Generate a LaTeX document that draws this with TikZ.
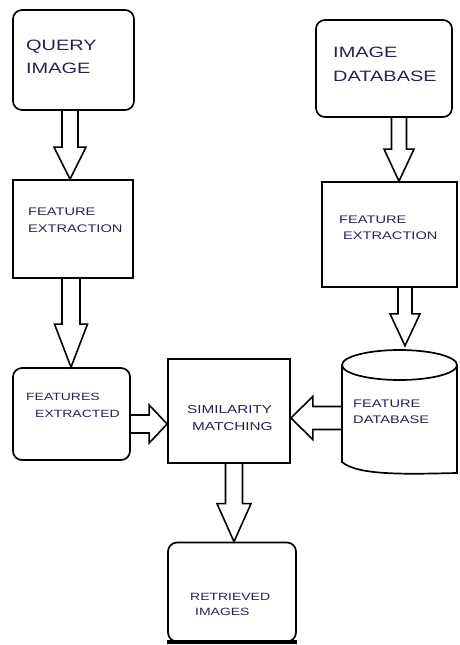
\documentclass[tikz,border=0pt]{standalone}
\usepackage{fontspec}
\setmainfont[FakeStretch=1.33]{Liberation Sans}
\usepackage{tikz}
\usetikzlibrary{calc}
\definecolor{inkblue}{RGB}{36,36,76}

% hollow block arrow: from, to, shaft half width, head half width, head length
\newcommand{\blockarrow}[5]{%
  \coordinate (hb) at ($(#2)!#5!(#1)$);
  \draw[arrowline] ($(#1)!#3!90:(#2)$) -- ($(hb)!#3!90:(#2)$) -- ($(hb)!#4!90:(#2)$)
    -- (#2) -- ($(hb)!#4!-90:(#2)$) -- ($(hb)!#3!-90:(#2)$) -- ($(#1)!#3!-90:(#2)$);
}

\tikzset{
  box/.style={draw, line width=1.7pt, inner sep=0pt},
  rbox/.style={box, rounded corners=9pt},
  lbl/.style={anchor=base west, inner sep=0pt, text=inkblue},
  big/.style={lbl, font=\fontsize{15}{18}\selectfont},
  small/.style={lbl, font=\fontsize{11}{13}\selectfont},
  arrowline/.style={line width=1.6pt, line join=miter}
}

\begin{document}
\begin{tikzpicture}[x=1pt, y=-1pt]
			\useasboundingbox (0,0) rectangle (459,645);
			% boxes
			\node[rbox, minimum width=121pt, minimum height=100pt] (qry) at (73.5,60) {};
			\node[box, minimum width=120pt, minimum height=98pt] (fe1) at (73,229) {};
			\node[rbox, minimum width=117pt, minimum height=92pt] (fx) at (71.5,414) {};
			\node[box, minimum width=122pt, minimum height=104pt] (sm) at (229,411) {};
			\node[rbox, minimum width=136pt, minimum height=97pt] (idb) at (384,68.5) {};
			\node[box, minimum width=135pt, minimum height=105pt] (fe2) at (389.5,234.5) {};
			\node[rbox, minimum width=128pt, minimum height=99pt] (ri) at (232,592) {};
			\draw[line width=4pt] (ri.south west) -- (ri.south east);
			% database drum
			\node[inner sep=0pt, minimum width=115pt, minimum height=123pt] (fdb) at (399.5,411.5) {};
			\draw[line width=1.7pt] (342,365) -- (342,462) .. controls (358,476) and (410,474) .. (457,473) -- (457,365);
			\draw[line width=1.7pt] (399.5,365) ellipse [x radius=57.5, y radius=15];

			% labels
			\node[big] (qry1) at (26,50) {QUERY};
			\node[big] (qry2) at (26,73) {IMAGE};
			\node[big] (idb1) at (333,57) {IMAGE};
			\node[big] (idb2) at (333,81) {DATABASE};
			\node[small] (fe1a) at (28,215) {FEATURE};
			\node[small] (fe1b) at (28,232) {EXTRACTION};
			\node[small] (fe2a) at (339,223) {FEATURE};
			\node[small] (fe2b) at (343,239) {EXTRACTION};
			\node[small, font=\fontsize{10.5}{12}\selectfont] (fxa) at (26,400) {FEATURES};
			\node[small, font=\fontsize{10.5}{12}\selectfont] (fxb) at (35,417) {EXTRACTED};
			\node[small, font=\fontsize{11.5}{13}\selectfont] (sma) at (187,413) {SIMILARITY};
			\node[small, font=\fontsize{11.5}{13}\selectfont] (smb) at (192,430) {MATCHING};
			\node[small] (fdba) at (353,407) {FEATURE};
			\node[small] (fdbb) at (353,423) {DATABASE};
			\node[small, font=\fontsize{10.5}{12}\selectfont] (ria) at (190,600) {RETRIEVED};
			\node[small, font=\fontsize{10.5}{12}\selectfont] (rib) at (195,615) {IMAGES};

			% arrows
			\coordinate (a1s) at ([xshift=-3.5pt]qry.south);
			\coordinate (a1e) at (a1s |- fe1.north);
			\blockarrow{a1s}{a1e}{8pt}{16pt}{32pt}
			\coordinate (a2s) at ([xshift=-2pt]fe1.south);
			\coordinate (a2e) at (a2s |- fx.north);
			\blockarrow{a2s}{a2e}{9pt}{16.5pt}{43pt}
			\coordinate (a3s) at ([xshift=15pt]idb.south);
			\coordinate (a3e) at (a3s |- fe2.north);
			\blockarrow{a3s}{a3e}{7.5pt}{15pt}{32pt}
			\coordinate (a4s) at ([xshift=15.5pt]fe2.south);
			\coordinate (a4e) at ([yshift=4pt]a4s |- fdb.north);
			\blockarrow{a4s}{a4e}{7pt}{15pt}{32pt}
			\coordinate (a5s) at ([xshift=5pt]sm.south);
			\coordinate (a5e) at (a5s |- ri.north);
			\blockarrow{a5s}{a5e}{8.5pt}{17pt}{38pt}
			\coordinate (h1s) at ([yshift=-10pt]fx.east);
			\coordinate (h1e) at (h1s -| sm.west);
			\blockarrow{h1s}{h1e}{9pt}{19pt}{18pt}
			\coordinate (h2s) at ([yshift=-6.5pt]fdb.west);
			\coordinate (h2e) at (h2s -| sm.east);
			\blockarrow{h2s}{h2e}{11.5pt}{21.5pt}{22pt}
		\end{tikzpicture}
\end{document}
